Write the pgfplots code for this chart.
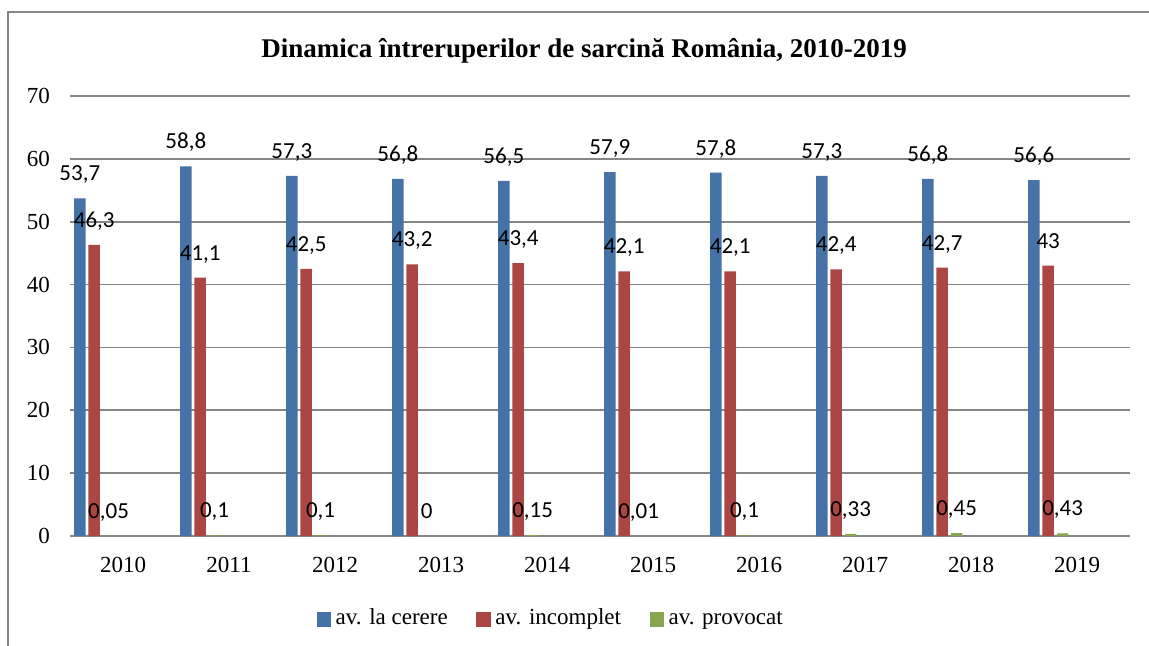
\documentclass[border=0pt]{standalone}
\usepackage{pgfplots}
\usepackage{pgfplotstable}
\pgfplotsset{compat=1.18}
\usepackage{fontspec}
\setmainfont{Liberation Serif}
\newfontfamily\calibri{Carlito}
\definecolor{cblue}{RGB}{69,114,167}
\definecolor{cred}{RGB}{170,70,67}
\definecolor{cgreen}{RGB}{137,165,78}
\definecolor{gridgray}{RGB}{134,134,134}

\pgfplotstableread{
x y lab
0 53.7 53,7
1 58.8 58,8
2 57.3 57,3
3 56.8 56,8
4 56.5 56,5
5 57.9 57,9
6 57.8 57,8
7 57.3 57,3
8 56.8 56,8
9 56.6 56,6
}\tblblue
\pgfplotstableread{
x y lab
0 46.3 46,3
1 41.1 41,1
2 42.5 42,5
3 43.2 43,2
4 43.4 43,4
5 42.1 42,1
6 42.1 42,1
7 42.4 42,4
8 42.7 42,7
9 43 43
}\tblred
\pgfplotstableread{
x y lab
0 0.05 0,05
1 0.1 0,1
2 0.1 0,1
3 0 0
4 0.15 0,15
5 0.01 0,01
6 0.1 0,1
7 0.33 0,33
8 0.45 0,45
9 0.43 0,43
}\tblgreen

\begin{document}
\begin{tikzpicture}
\begin{axis}[
  at={(35pt,-268pt)}, anchor=south west,
  scale only axis, width=530pt, height=220pt,
  ybar, bar width=5.75pt,
  xmin=-0.5, xmax=9.5, ymin=0, ymax=70,
  ytick={0,10,...,70},
  xtick={0,...,9},
  xticklabels={2010,2011,2012,2013,2014,2015,2016,2017,2018,2019},
  ymajorgrids, grid style={gridgray, line width=0.8pt},
  axis line style={draw=none},
  major tick length=0pt,
  tick label style={font=\fontsize{11.5}{13}\selectfont},
  /pgf/number format/assume math mode=true,
  yticklabel style={anchor=east, xshift=-6.5pt},
  xticklabel style={anchor=north, yshift=-7pt},
  every axis title shift=0pt,
  title={Dinamica întreruperilor de sarcină România, 2010-2019},
  title style={font=\bfseries\fontsize{13.5}{15}\selectfont, at={(0.485,1.0864)}, anchor=base},
  point meta=explicit symbolic,
  nodes near coords,
  every node near coord/.append style={font=\calibri\fontsize{11.5}{13}\selectfont, anchor=base, yshift=8.8pt},
  legend columns=3,
  legend style={at={(0.4547,-0.19)}, anchor=center, draw=none,
    font=\fontsize{11.5}{13}\selectfont,
    /tikz/every even column/.append style={column sep=12pt},
    nodes={inner ysep=1.3pt, inner xsep=2.3pt, text height=7.5pt, text depth=2.5pt}},
  legend image code/.code={\fill[#1] (0pt,-3.6pt) rectangle (7.2pt,3.6pt);},
]
\addplot[fill=cblue, draw=none, bar shift=-21.6pt] table[x=x,y=y,meta=lab]{\tblblue};
\addplot[fill=cred, draw=none, bar shift=-14.4pt] table[x=x,y=y,meta=lab]{\tblred};
\addplot[fill=cgreen, draw=none, bar shift=-7.2pt] table[x=x,y=y,meta=lab]{\tblgreen};
\legend{av. la cerere, av. incomplet, av. provocat}
\end{axis}
\draw[gridgray, line width=0.65pt] (4pt,-340pt) -- (4pt,-6pt) -- (590pt,-6pt);
\pgfresetboundingbox
\path[use as bounding box] (0,0) rectangle (574.5pt,-323pt);
\end{tikzpicture}
\end{document}
